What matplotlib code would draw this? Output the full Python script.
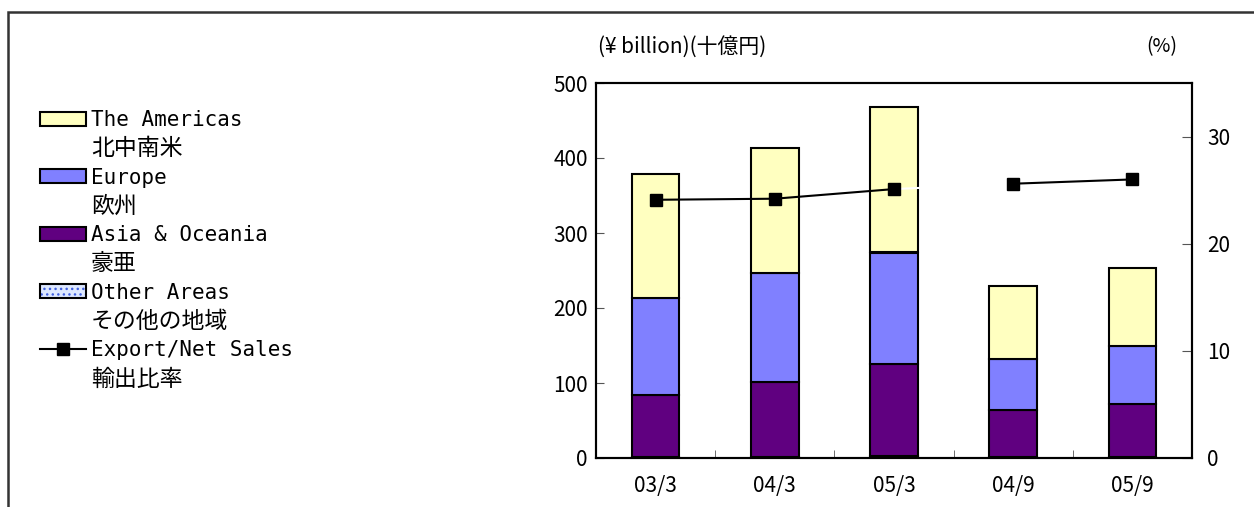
import matplotlib
matplotlib.use("Agg")
import matplotlib.pyplot as plt
import numpy as np
from matplotlib.patches import Rectangle, Patch
from matplotlib.lines import Line2D
from matplotlib.legend_handler import HandlerTuple

# data (¥ billion)
periods = ["03/3", "04/3", "05/3", "04/9", "05/9"]
other = [1, 1, 3, 1, 1]
asia = [83, 101, 123, 63, 71]
europe = [130, 145, 148, 68, 77]
americas = [165, 167, 194, 98, 104]
ratio = [24.1, 24.2, 25.1, 25.6, 26.0]   # export / net sales (%)

names_en = ["The Americas", "Europe", "Asia & Oceania", "Other Areas", "Export/Net Sales"]
names_jp = ["北中南米", "欧州", "豪亜", "その他の地域", "輸出比率"]

c_am = "#FFFFC0"
c_eu = "#8080FF"
c_as = "#600080"
c_ot = "#DDE8FF"

tick_font = ["Liberation Sans Narrow", "Noto Sans CJK JP", "DejaVu Sans"]
leg_font = ["DejaVu Sans Mono", "Noto Sans CJK JP"]

fig = plt.figure(figsize=(12.54, 5.07), dpi=100)
ax = fig.add_axes([596/1254, 1-458/507, 596/1254, 375/507])
ax2 = ax.twinx()

x = np.arange(len(periods))
w = 0.40
ot = np.array(other); a = np.array(asia); e = np.array(europe); m = np.array(americas)
ax.bar(x, ot, w, color=c_ot, edgecolor="black", lw=1.5)
ax.bar(x, a, w, bottom=ot, color=c_as, edgecolor="black", lw=1.5)
ax.bar(x, e, w, bottom=ot+a, color=c_eu, edgecolor="black", lw=1.5)
ax.bar(x, m, w, bottom=ot+a+e, color=c_am, edgecolor="black", lw=1.5)

# export ratio: break between fiscal years and half years
ax2.plot(x[2:4], ratio[2:4], color="white", lw=1.5)
ax2.plot(x[:3], ratio[:3], color="black", lw=1.5, marker="s", ms=8)
ax2.plot(x[3:], ratio[3:], color="black", lw=1.5, marker="s", ms=8)

ax.set_xlim(-0.5, 4.5)
ax.set_ylim(0, 500)
ax2.set_ylim(0, 35)
ax.set_yticks([0, 100, 200, 300, 400, 500])
ax2.set_yticks([0, 10, 20, 30])
ax.set_xticks(x)
ax.set_xticklabels(periods)
ax.set_xticks(x[:-1] + 0.5, minor=True)
ax.tick_params(axis="x", which="major", length=0, pad=12)
ax.tick_params(axis="x", which="minor", direction="in", length=6, color="#555555")
ax.tick_params(axis="y", direction="in", length=6, color="#555555", pad=6)
ax2.tick_params(axis="y", direction="in", length=7, color="#555555", pad=11)
for t in ax.get_xticklabels() + ax.get_yticklabels() + ax2.get_yticklabels():
    t.set_fontfamily(tick_font)
    t.set_fontsize(15)
for sp in ax.spines.values():
    sp.set_linewidth(1.5)
for sp in ax2.spines.values():
    sp.set_linewidth(1.5)

fig.text(598/1254, 1-47/507, "(¥ billion)(十億円)", fontsize=15,
         family=tick_font, va="center", ha="left")
fig.text(1162/1254, 1-47/507, "(%)", fontsize=14,
         family=tick_font, va="center", ha="center")

# legend: english line carries the key, japanese line below it
h_other = (Patch(facecolor=c_ot, edgecolor="#4060E0", hatch="...", lw=0),
           Patch(facecolor="none", edgecolor="black", lw=1.5))
keys = [Patch(facecolor=c_am, edgecolor="black", lw=1.5),
        Patch(facecolor=c_eu, edgecolor="black", lw=1.5),
        Patch(facecolor=c_as, edgecolor="black", lw=1.5),
        h_other,
        Line2D([], [], color="black", lw=1.5, marker="s", ms=8)]
handles = []
labels = []
for k, en, jp in zip(keys, names_en, names_jp):
    handles += [k, Patch(visible=False)]
    labels += [en, jp]
leg = fig.legend(handles, labels, loc="upper left",
                 bbox_to_anchor=(40/1254, 1-110/507), frameon=False,
                 borderpad=0, borderaxespad=0, handlelength=2.2,
                 handleheight=0.65, handletextpad=0.25, labelspacing=0.35,
                 prop={"family": leg_font, "size": 15},
                 handler_map={tuple: HandlerTuple(ndivide=1, pad=0)})
for i, t in enumerate(leg.get_texts()):
    if i % 2 == 1:
        t.set_fontsize(16.5)

# outer frame
fig.add_artist(Rectangle((8/1254, -0.1), 1.2, 1-12/507+0.1, fill=False,
                         edgecolor="#333333", lw=1.8, transform=fig.transFigure))

fig.savefig("out.png", dpi=100)
